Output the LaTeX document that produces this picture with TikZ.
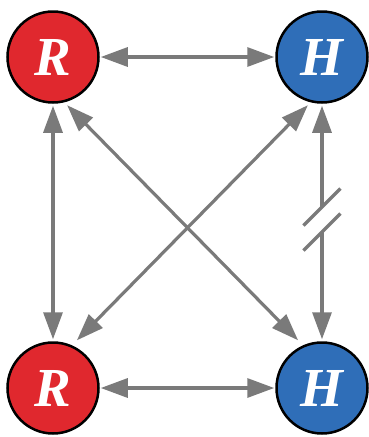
\documentclass[tikz,border=0pt]{standalone}
\usepackage{fontspec}
\setmainfont{Liberation Serif}
\usetikzlibrary{arrows.meta,calc}
\definecolor{rred}{HTML}{E0282E}
\definecolor{hblue}{HTML}{2F6EB8}
\definecolor{agray}{HTML}{7A7A7A}
\tikzset{
  agent/.style={circle, draw=black, line width=2.5pt, minimum size=91pt, inner sep=0pt,
    text=white, font=\fontsize{55}{60}\selectfont\bfseries\itshape},
  rnode/.style={agent, fill=rred},
  hnode/.style={agent, fill=hblue},
  conn/.style={draw=agray, line width=3.2pt},
  biarrow/.style={conn, {Triangle[length=27pt,width=19pt]}-{Triangle[length=27pt,width=19pt]}},
  tiparrow/.style={conn, -{Triangle[length=27pt,width=19pt]}},
  slash/.style={draw=agray, line width=3.2pt}
}
\begin{document}
\begin{tikzpicture}[x=1pt,y=-1pt]
\useasboundingbox (0,0) rectangle (368,437);
\node[rnode] (R1) at (53,57) {R};
\node[hnode] (H1) at (322,57) {H};
\node[rnode] (R2) at (53,388) {R};
\node[hnode] (H2) at (322,388) {H};
% horizontal
\draw[biarrow, shorten <=1pt, shorten >=1pt] (R1) -- (H1);
\draw[biarrow, shorten <=1pt, shorten >=1pt] (R2) -- (H2);
% left vertical
\draw[biarrow, shorten <=2pt, shorten >=2pt] (R1) -- (R2);
% diagonals
\draw[biarrow, shorten <=4pt, shorten >=7pt] (R1.-76) -- (H2.114);
\draw[biarrow, shorten <=4pt, shorten >=7pt] (H1.-104) -- (R2.66);
% right vertical with break
\coordinate (b1) at (322,207);
\coordinate (b2) at (322,232);
\draw[tiparrow, shorten >=2pt] (b1) -- (H1);
\draw[tiparrow, shorten >=2pt] (b2) -- (H2);
\draw[slash] ($(b1)+(-18.5,18.5)$) -- ($(b1)+(18.5,-18.5)$);
\draw[slash] ($(b2)+(-18.5,18.5)$) -- ($(b2)+(18.5,-18.5)$);
\end{tikzpicture}
\end{document}
